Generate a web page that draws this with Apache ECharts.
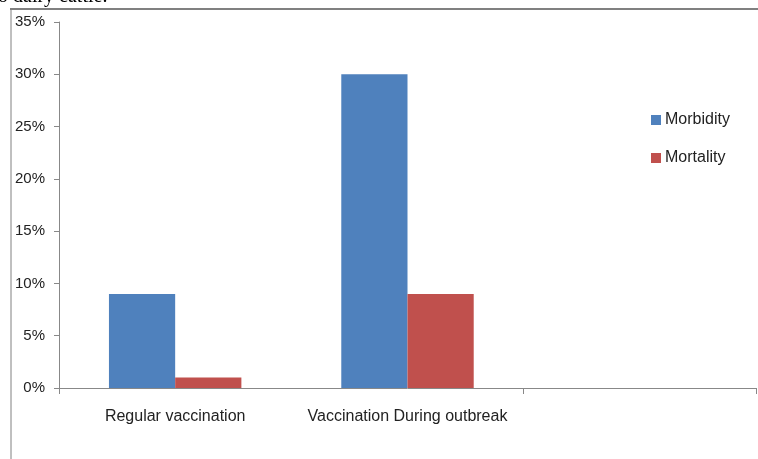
<!DOCTYPE html>
<html><head><meta charset="utf-8">
<script src="https://cdn.jsdelivr.net/npm/echarts@6/dist/echarts.min.js"></script>
<style>html,body{margin:0;padding:0;background:#fff}#c{width:758px;height:459px}</style>
</head><body><div id="c"></div>
<script>
const categories = ['Regular vaccination', 'Vaccination During outbreak', ''];
const morbidity = [9, 30, null];
const mortality = [1, 9, null];
const yTicks = [0, 5, 10, 15, 20, 25, 30, 35];
const seriesNames = ['Morbidity', 'Mortality'];

const chart = echarts.init(document.getElementById('c'));
const font = '"Liberation Sans Narrow", "Liberation Sans", sans-serif';
chart.setOption({
  animation: false,
  backgroundColor: '#fff',
  grid: { left: 59, right: 2, top: 22, bottom: 71, containLabel: false },
  legend: {
    orient: 'vertical', left: 646, top: 107, itemWidth: 10, itemHeight: 10, itemGap: 22,
    icon: 'rect',
    textStyle: { fontFamily: font, fontSize: 16, color: '#222', padding: [0, 0, 0, -1] },
    data: seriesNames
  },
  xAxis: {
    type: 'category', data: categories,
    axisLine: { lineStyle: { color: '#888', width: 1 } },
    axisTick: { show: true, length: 6, interval: (i) => i !== 1, lineStyle: { color: '#888' } },
    axisLabel: { interval: 0, fontFamily: font, fontSize: 16, color: '#222', margin: 21 }
  },
  yAxis: {
    type: 'value', min: 0, max: 35, interval: 5,
    axisLine: { show: true, lineStyle: { color: '#888' } },
    axisTick: { show: true, length: 5, lineStyle: { color: '#888' } },
    splitLine: { show: false },
    axisLabel: { fontFamily: font, fontSize: 15, color: '#222', margin: 14,
      formatter: v => yTicks.includes(v) ? v + '%' : '' }
  },
  series: [
    { name: seriesNames[0], type: 'bar', data: morbidity, barGap: '0%', barCategoryGap: '43%',
      itemStyle: { color: '#4F81BD' } },
    { name: seriesNames[1], type: 'bar', data: mortality, barGap: '0%', barCategoryGap: '43%',
      itemStyle: { color: '#C0504D' } }
  ],
  graphic: [
    { type: 'line', shape: { x1: 10, y1: 9, x2: 758, y2: 9 }, style: { stroke: '#808080', lineWidth: 2 } },
    { type: 'line', shape: { x1: 11, y1: 9, x2: 11, y2: 459 }, style: { stroke: '#808080', lineWidth: 1 } },
    { type: 'text', left: -2, top: -13, style: { text: 'o dairy cattle.', font: '20px "Liberation Serif", serif', fill: '#000' } }
  ]
});
</script></body></html>
